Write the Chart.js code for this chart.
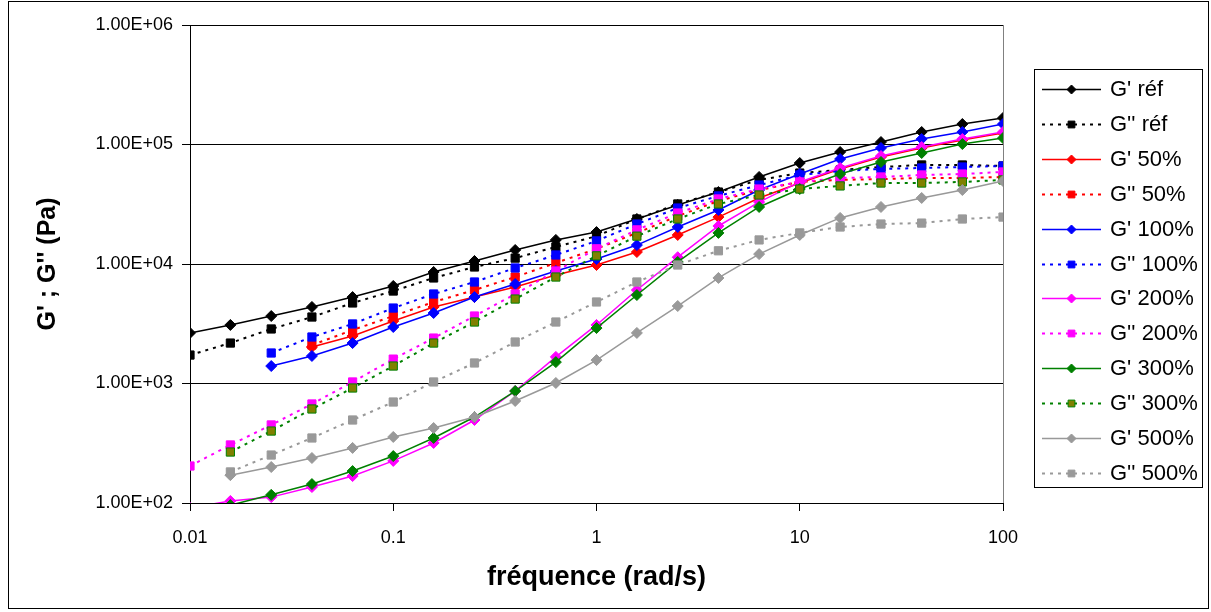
<!DOCTYPE html>
<html><head><meta charset="utf-8">
<script src="https://cdn.jsdelivr.net/npm/chart.js@4.4.0/dist/chart.umd.min.js"></script>
<style>html,body{margin:0;padding:0;background:#fff;}canvas{display:block}</style>
</head><body>
<canvas id="c" width="1211" height="612"></canvas>
<script>
const freq = [0.01,0.0158,0.0251,0.0398,0.0631,0.1,0.158,0.251,0.398,0.631,1,1.58,2.51,3.98,6.31,10,15.8,25.1,39.8,63.1,100];
const gpRef = [2650,3090,3670,4370,5290,6550,8570,10600,13100,15900,18500,23800,31200,40000,53500,70000,86500,104900,127200,148400,166700];
const gsRef = [1730,2180,2860,3600,4720,5940,7640,9440,11200,13900,17100,23800,31800,40000,50500,57700,61200,64800,67400,67400,66100];
const gp50  = [null,null,null,2020,2500,3330,4370,5290,6420,8090,9810,12600,17500,24700,35700,47600,62400,78600,93500,109100,124800];
const gs50  = [null,null,null,2100,2800,3670,4810,6060,7780,10200,13400,18200,25200,33700,41600,48600,50500,51400,52400,52400,53500];
const gp100 = [null,null,1400,1700,2180,2970,3890,5290,6800,8740,11000,14400,20400,28300,41600,56600,75600,93500,111200,127200,148400];
const gs100 = [null,null,1800,2450,3150,4280,5610,7070,9260,11900,15600,21600,29400,37100,45800,55600,60000,62400,63600,64800,66100];
const gp200 = [91,104,112,136,168,225,318,495,865,1670,3090,6060,11400,20800,33000,48600,63600,80100,95300,111200,127200];
const gs200 = [204,306,450,674,1030,1600,2400,3670,5610,8740,13400,19300,26700,35000,42400,48600,52400,53500,55600,56600,58900];
const gp300 = [null,96,117,144,185,247,350,524,865,1510,2910,5500,10400,18200,30000,42400,56600,71400,84900,100900,113300];
const gs300 = [null,267,400,612,917,1400,2180,3270,5090,7780,11700,17100,23800,31800,37800,42400,45000,47600,47600,48600,50500];
const gp500 = [null,171,200,238,289,357,424,524,714,1010,1570,2650,4450,7640,12100,17500,24300,30000,35700,41600,49500];
const gs500 = [null,182,252,350,495,700,1030,1485,2225,3270,4810,7070,9810,12900,15900,18200,20400,21600,22000,23800,24700];

const seriesNames = ["G' réf","G'' réf","G' 50%","G'' 50%","G' 100%","G'' 100%","G' 200%","G'' 200%","G' 300%","G'' 300%","G' 500%","G'' 500%"];
const seriesValues = [gpRef,gsRef,gp50,gs50,gp100,gs100,gp200,gs200,gp300,gs300,gp500,gs500];

const xTicks = [0.01,0.1,1,10,100];
const xTickLabels = ['0.01','0.1','1','10','100'];
const yTicks = [100,1000,10000,100000,1000000];
const yTickLabels = ['1.00E+02','1.00E+03','1.00E+04','1.00E+05','1.00E+06'];

const xTitle = 'fréquence (rad/s)';
const yTitle = "G' ; G'' (Pa)";

// styles
const lineColors = ['#000000','#000000','#FF0000','#FF0000','#0000FF','#0000FF','#FF00FF','#FF00FF','#008000','#008000','#999999','#999999'];
const fillColors = ['#000000','#000000','#FF0000','#FF0000','#0000FF','#0000FF','#FF00FF','#FF00FF','#008000','#808000','#999999','#999999'];
const FONT = "'Liberation Sans', Arial, sans-serif";

const datasets = seriesNames.map((name, k) => {
  const isStorage = k % 2 === 0;
  return {
    label: name,
    data: freq.map((f, i) => ({x: f, y: seriesValues[k][i]})).filter(p => p.y !== null),
    borderColor: lineColors[k],
    backgroundColor: fillColors[k],
    pointBackgroundColor: fillColors[k],
    pointBorderColor: lineColors[k],
    pointBorderWidth: 1,
    borderWidth: isStorage ? 1.5 : 2,
    borderDash: isStorage ? [] : [3, 5],
    pointStyle: isStorage ? 'rectRot' : 'rect',
    pointRadius: isStorage ? 5.5 : 5.8,
    pointHoverRadius: 5.5,
    tension: 0,
    fill: false,
    order: 20 - k
  };
});

const framePlugin = {
  id: 'frame',
  beforeDatasetsDraw(chart) {
    const {ctx, chartArea: a} = chart;
    ctx.save();
    ctx.strokeStyle = '#808080';
    ctx.lineWidth = 1;
    ctx.beginPath();
    ctx.moveTo(Math.round(a.right) + 0.5, a.top);
    ctx.lineTo(Math.round(a.right) + 0.5, a.bottom);
    ctx.stroke();
    ctx.restore();
  },
  afterDraw(chart) {
    const ctx = chart.ctx;
    ctx.save();
    ctx.strokeStyle = '#000';
    ctx.lineWidth = 1;
    ctx.strokeRect(8.5, 1.5, 1200, 607);
    // legend
    const lx = 1034, ly = 69, lw = 168, lh = 418;
    ctx.fillStyle = '#fff';
    ctx.fillRect(lx, ly, lw, lh);
    ctx.strokeRect(lx + 0.5, ly + 0.5, lw, lh);
    chart.data.datasets.forEach((ds, i) => {
      const y = 89 + i * 34.9;
      ctx.save();
      ctx.strokeStyle = ds.borderColor;
      ctx.lineWidth = ds.borderWidth;
      ctx.setLineDash(ds.borderDash);
      ctx.beginPath();
      ctx.moveTo(1042, Math.round(y) + 0.5);
      ctx.lineTo(1101, Math.round(y) + 0.5);
      ctx.stroke();
      ctx.setLineDash([]);
      ctx.fillStyle = ds.pointBackgroundColor;
      ctx.strokeStyle = ds.pointBorderColor;
      ctx.lineWidth = 1;
      Chart.helpers.drawPoint(ctx, {pointStyle: ds.pointStyle, rotation: 0, radius: ds.pointStyle === 'rect' ? 4.8 : 4.5, borderWidth: 1}, 1071.5, Math.round(y) + 0.5);
      ctx.restore();
      ctx.fillStyle = '#000';
      ctx.font = '22px ' + FONT;
      ctx.textBaseline = 'middle';
      ctx.textAlign = 'left';
      ctx.fillText(ds.label, 1110, y + 1);
    });
    ctx.restore();
  }
};

new Chart(document.getElementById('c'), {
  type: 'line',
  data: {datasets},
  options: {
    responsive: false,
    animation: false,
    devicePixelRatio: 1,
    layout: {padding: {top: 25, right: 208, left: 0, bottom: 0}},
    plugins: {legend: {display: false}, tooltip: {enabled: false}},
    scales: {
      x: {
        type: 'logarithmic', min: 0.01, max: 100,
        afterFit: s => { s.height = 109; },
        afterBuildTicks: s => { s.ticks = xTicks.map(v => ({value: v, major: true})); },
        ticks: {
          callback: (v, i) => xTickLabels[i],
          font: {family: FONT, size: 18}, color: '#000', padding: 16, maxRotation: 0, autoSkip: false
        },
        grid: {drawOnChartArea: false, color: '#000', tickLength: 8, lineWidth: 1},
        border: {color: '#000', width: 1},
        title: {display: true, text: xTitle, font: {family: FONT, size: 27, weight: 'bold'}, color: '#000', padding: {top: 0, bottom: 18}}
      },
      y: {
        type: 'logarithmic', min: 100, max: 1000000,
        afterFit: s => { s.width = 190; },
        afterBuildTicks: s => { s.ticks = yTicks.map(v => ({value: v, major: true})); },
        ticks: {
          callback: (v, i) => yTickLabels[i],
          font: {family: FONT, size: 18}, color: '#000', padding: 9, autoSkip: false
        },
        grid: {color: '#000', tickLength: 8, lineWidth: 1},
        border: {color: '#000', width: 1},
        title: {display: true, text: yTitle, font: {family: FONT, size: 25, weight: 'bold'}, color: '#000', padding: {top: 33, bottom: 0}}
      }
    }
  },
  plugins: [framePlugin]
});
</script>
</body></html>
